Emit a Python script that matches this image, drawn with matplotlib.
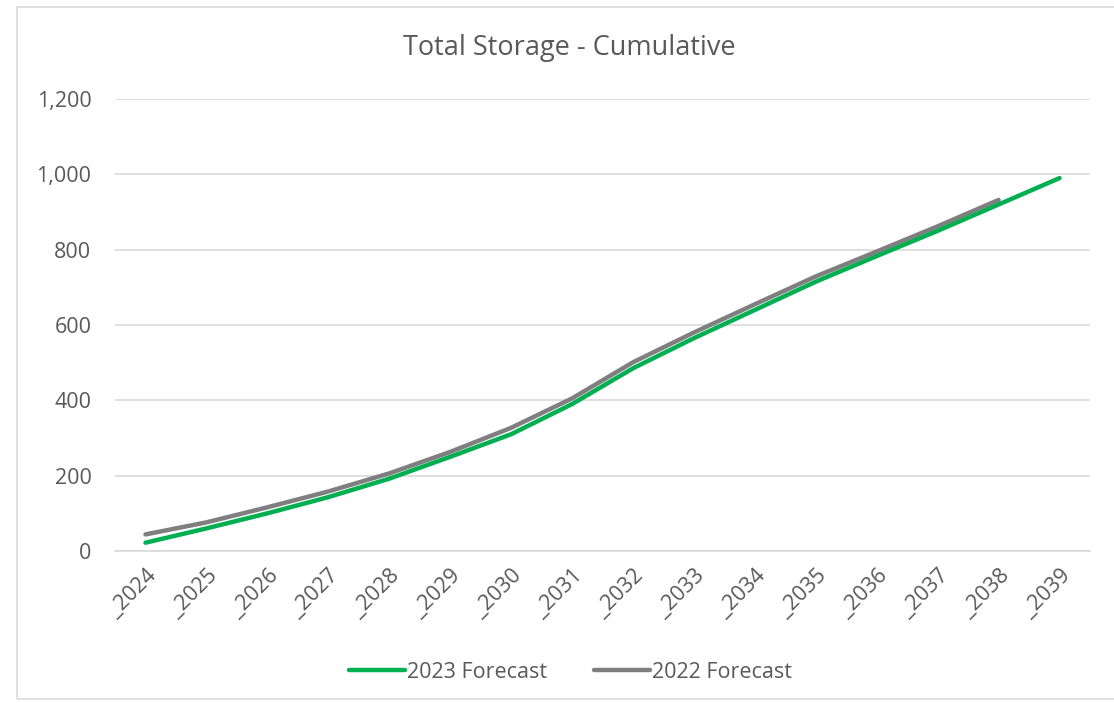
import matplotlib.pyplot as plt
from matplotlib.patches import Rectangle
from matplotlib.ticker import FuncFormatter

plt.rcParams["font.family"] = ["Open Sans", "DejaVu Sans"]

years = ["_2024", "_2025", "_2026", "_2027", "_2028", "_2029", "_2030", "_2031",
         "_2032", "_2033", "_2034", "_2035", "_2036", "_2037", "_2038", "_2039"]
forecast_2023 = [22, 60, 100, 143, 192, 250, 310, 390, 485, 565, 640, 715, 783, 850, 920, 990]
forecast_2022 = [44, 76, 116, 158, 206, 263, 327, 405, 501, 580, 655, 729, 795, 862, 932]

txt = "#595959"
fig = plt.figure(figsize=(11.14, 7.03), dpi=100)
fig.patches.append(Rectangle((17/1114, 0.005), 1.2, 1 - 7/703 - 0.005, transform=fig.transFigure,
                             fill=False, edgecolor="#d9d9d9", linewidth=1.2))
ax = fig.add_axes([115/1114, 1 - 551/703, 975/1114, (551 - 99)/703])

x = list(range(len(years)))
ax.plot(x, forecast_2023, color="#00b050", lw=3.2, solid_capstyle="round", label="2023 Forecast", zorder=3)
ax.plot(x[:len(forecast_2022)], forecast_2022, color="#7f7f7f", lw=3.2, solid_capstyle="round",
        label="2022 Forecast", zorder=2)

ax.set_xlim(-0.5, len(years) - 0.5)
ax.set_ylim(0, 1200)
ax.set_yticks(range(0, 1201, 200))
ax.yaxis.set_major_formatter(FuncFormatter(lambda v, p: f"{int(v):,}"))
ax.set_xticks(x)
ax.set_xticklabels(years, rotation=45, ha="right", rotation_mode="anchor")
ax.grid(axis="y", color="#d9d9d9", lw=1.2)
ax.set_axisbelow(True)
for s in ["top", "right", "left"]:
    ax.spines[s].set_visible(False)
ax.spines["bottom"].set_color("#d9d9d9")
ax.spines["bottom"].set_linewidth(1.2)
ax.tick_params(length=0, colors=txt, labelsize=15.5)
ax.tick_params(axis="y", pad=17)
ax.tick_params(axis="x", pad=10)

fig.text(0.511, 1 - 48/703, "Total Storage - Cumulative", ha="center", va="center", fontsize=19.5, color=txt)
fig.legend(loc="center", bbox_to_anchor=(0.512, 1 - 672/703), ncol=2, frameon=False,
           fontsize=15.5, labelcolor=txt, handlelength=2.6, handletextpad=0.1, columnspacing=2.2)

fig.savefig("out.png", dpi=100)
